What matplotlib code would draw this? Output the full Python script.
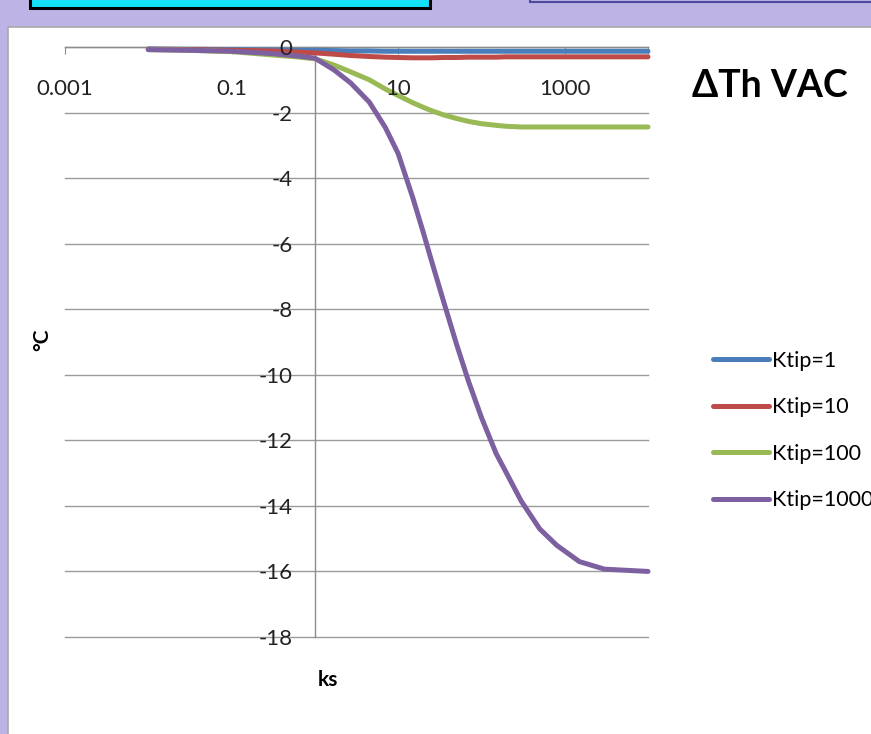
import matplotlib
matplotlib.use("Agg")
import matplotlib.pyplot as plt
from matplotlib.patches import Rectangle
from matplotlib.lines import Line2D

plt.rcParams['font.family'] = ['Lato', 'DejaVu Sans']

# ---- data ----
ks = [0.01, 0.03, 0.1, 0.3, 0.6, 1, 1.7, 2.7, 4.5, 7, 10, 15, 20, 25, 35, 50, 70, 100,
      150, 200, 300, 500, 800, 1500, 3000, 10000]
ktip1 = [-0.06, -0.07, -0.08, -0.09, -0.1, -0.1, -0.11, -0.12, -0.12, -0.13, -0.13, -0.13,
         -0.13, -0.13, -0.13, -0.13, -0.13, -0.13, -0.13, -0.13, -0.13, -0.13, -0.13,
         -0.13, -0.13, -0.13]
ktip10 = [-0.07, -0.08, -0.1, -0.12, -0.15, -0.18, -0.22, -0.26, -0.29, -0.31, -0.32,
          -0.33, -0.33, -0.33, -0.32, -0.32, -0.31, -0.31, -0.31, -0.3, -0.3, -0.3, -0.3,
          -0.3, -0.3, -0.3]
ktip100 = [-0.08, -0.1, -0.14, -0.24, -0.3, -0.36, -0.55, -0.76, -1.0, -1.28, -1.48, -1.7,
           -1.84, -1.94, -2.07, -2.18, -2.27, -2.34, -2.39, -2.42, -2.44, -2.44, -2.44,
           -2.44, -2.44, -2.44]
ktip1000 = [-0.08, -0.1, -0.13, -0.2, -0.27, -0.34, -0.7, -1.1, -1.68, -2.45, -3.25, -4.6,
            -5.65, -6.5, -7.75, -9.05, -10.2, -11.3, -12.4, -13.0, -13.85, -14.7,
            -15.2, -15.7, -15.93, -16.0]
series = [("Ktip=1", ktip1, "#4A7EBB"),
          ("Ktip=10", ktip10, "#BE4B48"),
          ("Ktip=100", ktip100, "#98B954"),
          ("Ktip=1000", ktip1000, "#7D60A0")]
xticks = [1e-3, 1e-1, 1e1, 1e3, 1e4]
xticklabels = ["0.001", "0.1", "10", "1000", ""]
yticks = [0, -2, -4, -6, -8, -10, -12, -14, -16, -18]

W, H = 871, 734
fig = plt.figure(figsize=(W / 100, H / 100), dpi=100)
fig.patch.set_facecolor("#BDB3E4")

def px_rect(x0, y0, x1, y1, **kw):
    fig.patches.append(Rectangle((x0 / W, 1 - y1 / H), (x1 - x0) / W, (y1 - y0) / H,
                                 transform=fig.transFigure, zorder=-10, **kw))

# decorative frame elements
px_rect(8, 27, 880, 740, facecolor="white", edgecolor="#A8A8A8", linewidth=1.2)
px_rect(30, -10, 430, 8, facecolor="#14E0F8", edgecolor="black", linewidth=2.2)
px_rect(530, -10, 880, 2, facecolor="#BDB3E4", edgecolor="#4B4BA0", linewidth=1.5)

rect = [65 / W, 1 - 637 / H, (648 - 65) / W, (637 - 47) / H]
ax = fig.add_axes(rect)
ax.set_facecolor("none")
ax.set_xscale("log")
ax.set_xlim(1e-3, 1e4)
ax.set_ylim(-18, 0)

for name, vals, col in series:
    ax.plot(ks, vals, color=col, lw=3.6, solid_capstyle="round",
            solid_joinstyle="round", label=name, zorder=3, clip_on=False)

ax.spines["top"].set_visible(False)
ax.spines["right"].set_visible(False)
ax.spines["left"].set_position(("data", 1))
ax.spines["bottom"].set_position(("data", 0))
for s in ("left", "bottom"):
    ax.spines[s].set_color("#8C8C8C")
    ax.spines[s].set_linewidth(1.0)

ax.set_xticks(xticks)
ax.xaxis.set_minor_locator(matplotlib.ticker.NullLocator())
ax.tick_params(axis="x", direction="out", length=5, color="#8C8C8C", labelbottom=False)
ax.set_yticks(yticks)
ax.tick_params(axis="y", length=0, labelleft=False)
ax.yaxis.grid(True, color="#9A9A9A", linewidth=1.0)
for gl in ax.get_ygridlines():
    gl.set_clip_on(False)
ax.set_axisbelow(True)

# overlay axes carrying the tick labels (drawn above the curves)
ax2 = fig.add_axes(rect, sharex=ax, sharey=ax)
ax2.patch.set_visible(False)
ax2.spines["top"].set_visible(False)
ax2.spines["right"].set_visible(False)
ax2.spines["left"].set_position(("data", 1))
ax2.spines["bottom"].set_position(("data", 0))
ax2.spines["left"].set_color("none")
ax2.spines["bottom"].set_color("none")
ax2.set_xticks(xticks)
ax2.set_xticklabels(xticklabels)
ax2.xaxis.set_minor_locator(matplotlib.ticker.NullLocator())
ax2.set_yticks(yticks)
ax2.set_yticklabels([str(v) for v in yticks])
ax2.tick_params(axis="x", length=0, pad=23, labelsize=16, labelcolor="#222222")
ax2.tick_params(axis="y", length=0, pad=16, labelsize=16, labelcolor="#222222")

fig.text(42 / W, 1 - 340 / H, "°C", rotation=90, ha="center", va="center",
         fontsize=15, fontweight="bold")
fig.text(328 / W, 1 - 680 / H, "ks", ha="center", va="center",
         fontsize=15, fontweight="bold")
fig.text(770 / W, 1 - 86 / H, "ΔTh VAC", ha="center", va="center",
         fontsize=27, fontweight="bold")

handles = [Line2D([], [], color=c, lw=3.6, solid_capstyle="round") for _, _, c in series]
fig.legend(handles, [n for n, _, _ in series], loc="upper left",
           bbox_to_anchor=(704 / W, 1 - 342 / H), frameon=False, fontsize=15.5,
           handlelength=2.6, handletextpad=0.15, labelspacing=1.23, borderaxespad=0)

fig.savefig("out.png", dpi=100, facecolor=fig.get_facecolor())
